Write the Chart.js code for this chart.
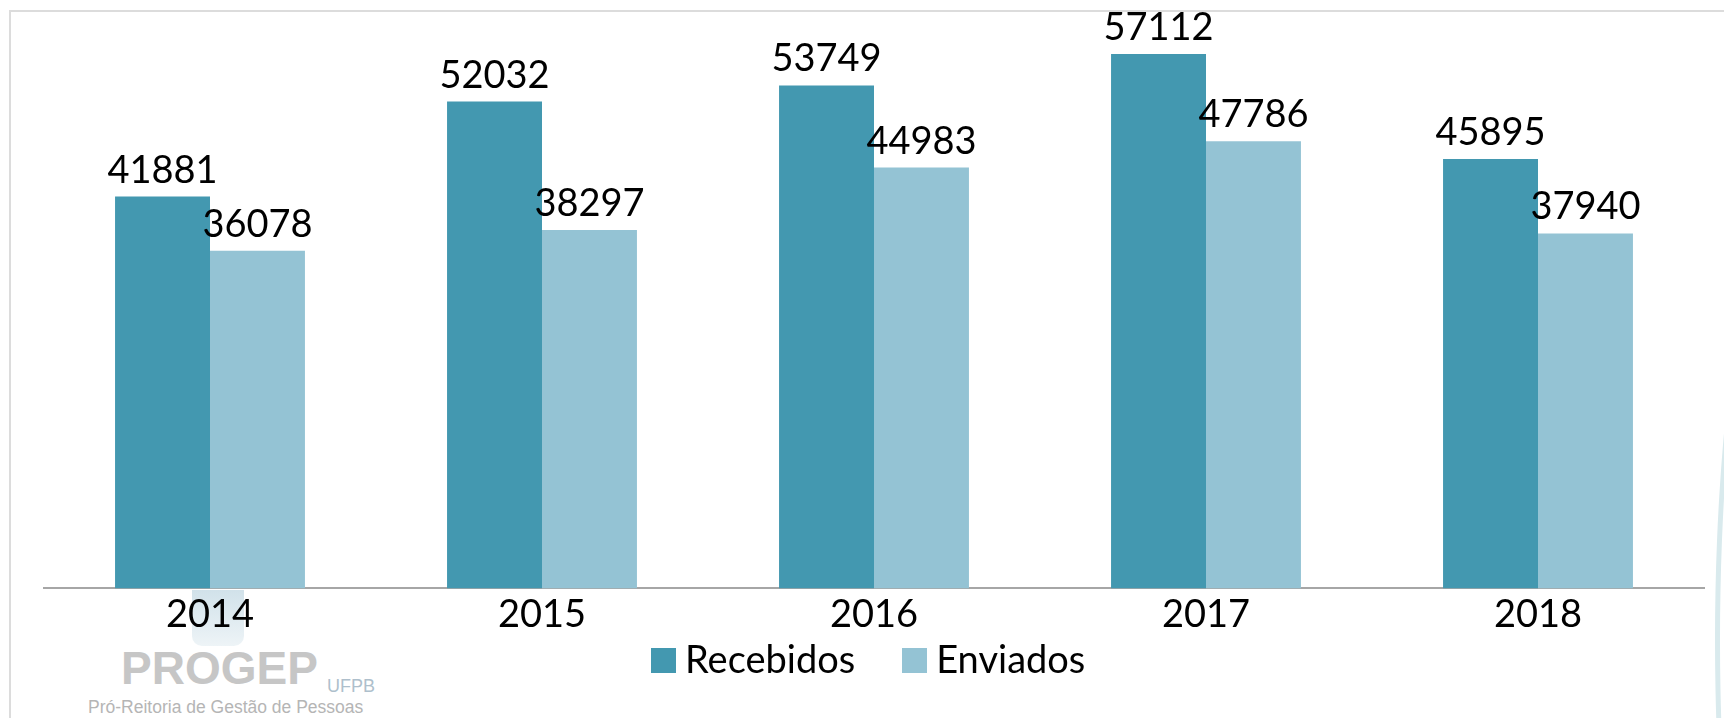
<!DOCTYPE html>
<html>
<head>
<meta charset="utf-8">
<script src="https://cdn.jsdelivr.net/npm/chart.js@4"></script>
<style>
    body { margin: 0; background: #fff; overflow: hidden; }
    #wrap { position: relative; width: 1724px; height: 718px; overflow: hidden; }
    #frame { position: absolute; left: 9px; top: 10px; width: 1800px; height: 800px;
             border-top: 2px solid #dcdcdc; border-left: 2px solid #dcdcdc; }
    #arc { position: absolute; left: 1715px; top: 130px; width: 200px; height: 1010px;
           border-radius: 50%; border: 5px solid #d9eaed; }
    #logoIcon { position: absolute; left: 192px; top: 590px; width: 52px; height: 56px;
                background: linear-gradient(#c2d8e3, #e8f0f4); border-radius: 0 0 10px 10px; opacity: 0.75; }
    #progep { position: absolute; left: 121px; top: 641px; font: bold 46px 'Liberation Sans';
              color: #c6c6c6; }
    #ufpb { position: absolute; left: 327px; top: 676px; font: 18px 'Liberation Sans'; color: #aebfcc; }
    #reitoria { position: absolute; left: 88px; top: 697px; font: 17.5px 'Liberation Sans'; color: #b5b5b5; white-space: nowrap; }
    #chartBox { position: absolute; left: 0; top: 0; width: 1724px; height: 718px; }
    #legend { position: absolute; left: 651px; top: 639px; display: flex; font: 38px Lato; line-height: 38px; color: #000; }
    #legend .item { display: flex; align-items: flex-start; margin-right: 47px; }
    #legend .box { width: 25px; height: 25px; margin-top: 9px; margin-right: 9px; }
</style>
</head>
<body>
<div id="wrap">
    <div id="frame"></div>
    <div id="arc"></div>
    <div id="logoIcon"></div>
    <div id="progep">PROGEP</div>
    <div id="ufpb">UFPB</div>
    <div id="reitoria">Pró-Reitoria de Gestão de Pessoas</div>
    <div id="chartBox"><canvas id="graph"></canvas></div>
    <div id="legend"></div>
</div>
<script>
// data //
const years = ['2014', '2015', '2016', '2017', '2018'];
const recebidos = [41881, 52032, 53749, 57112, 45895];
const enviados = [36078, 38297, 44983, 47786, 37940];

const darkTeal = 'rgb(67,152,176)';
const lightTeal = 'rgb(148,195,212)';

// value labels above the bars //
const barValues = {
    id: 'barValues',
    afterDatasetsDraw(chart) {
        const ctx = chart.ctx;
        ctx.save();
        ctx.font = '38px Lato';
        ctx.fillStyle = '#000';
        ctx.textAlign = 'center';
        ctx.textBaseline = 'alphabetic';
        chart.data.datasets.forEach(function(ds, i) {
            chart.getDatasetMeta(i).data.forEach(function(bar, j) {
                ctx.fillText(ds.data[j], bar.x, bar.y - 14);
            });
        });
        ctx.restore();
    }
};

const graph = document.getElementById('graph');

const chart = new Chart(graph, {
    type: 'bar',
    data: {
        labels: years,
        datasets: [{
            label: 'Recebidos',
            data: recebidos,
            backgroundColor: darkTeal,
            borderWidth: 0
        }, {
            label: 'Enviados',
            data: enviados,
            backgroundColor: lightTeal,
            borderWidth: 0
        }]
    },
    options: {
        responsive: true,
        maintainAspectRatio: false,
        animation: false,
        categoryPercentage: 0.572,
        barPercentage: 1.0,
        layout: {
            padding: { left: 44, right: 20, top: 27, bottom: 84 }
        },
        plugins: {
            legend: { display: false },
            tooltip: { enabled: false }
        },
        scales: {
            x: {
                z: 1,
                grid: { display: false },
                border: { display: true, color: '#a6a6a6', width: 2 },
                ticks: {
                    color: '#000',
                    padding: -4,
                    font: { family: 'Lato', size: 38 }
                }
            },
            y: {
                display: false,
                min: 0,
                max: 60000,
                grid: { display: false }
            }
        }
    },
    plugins: [barValues]
});

// legend built from the datasets //
const legendBox = document.getElementById('legend');
chart.data.datasets.forEach(function(ds) {
    let item = document.createElement('div');
    item.className = 'item';
    let box = document.createElement('div');
    box.className = 'box';
    box.style.background = ds.backgroundColor;
    let text = document.createElement('span');
    text.textContent = ds.label;
    item.appendChild(box);
    item.appendChild(text);
    legendBox.appendChild(item);
});
</script>
</body>
</html>
